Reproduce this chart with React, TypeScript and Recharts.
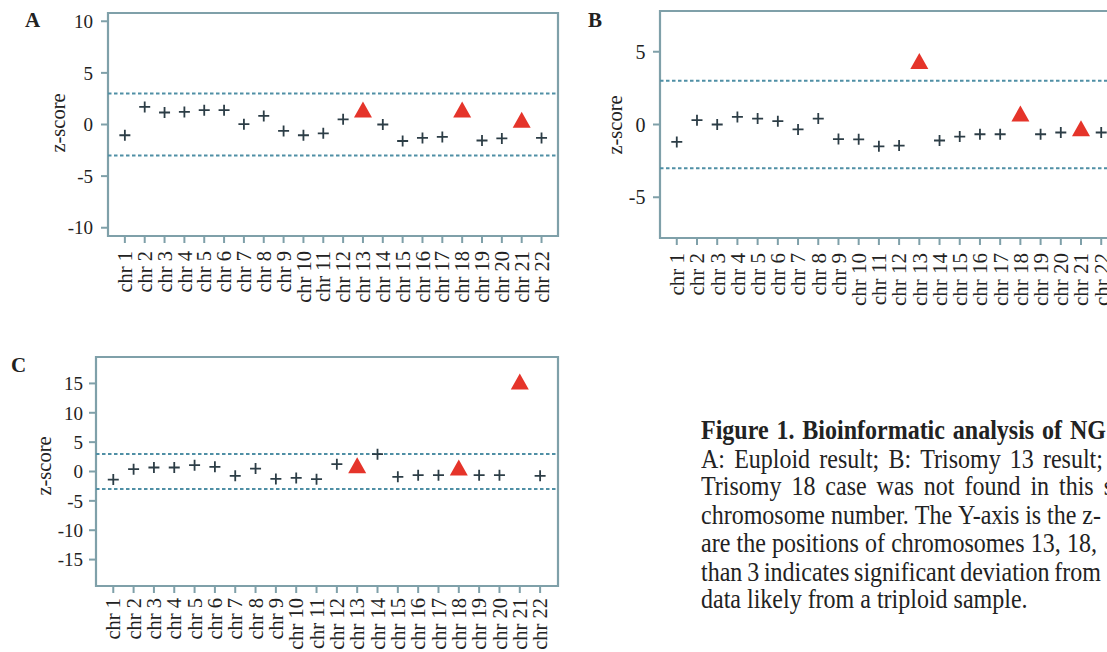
import React from 'react';
import { ScatterChart, Scatter, XAxis, YAxis, ReferenceLine, ReferenceArea } from 'recharts';

const chrNumbers = [1, 2, 3, 4, 5, 6, 7, 8, 9, 10, 11, 12, 13, 14, 15, 16, 17, 18, 19, 20, 21, 22];
const chrLabels = chrNumbers.map((n) => `chr ${n}`);
const trisomyChrs = [13, 18, 21];
const thresholds = [3, -3];

const zA = [-1.04, 1.7, 1.16, 1.22, 1.39, 1.39, 0.03, 0.83, -0.62, -1.04, -0.85, 0.5, 1.45, 0.0, -1.6, -1.3, -1.2, 1.45, -1.55, -1.35, 0.45, -1.3];
const zB = [-1.2, 0.3, 0.0, 0.52, 0.41, 0.23, -0.34, 0.41, -1.0, -1.02, -1.5, -1.45, 4.37, -1.1, -0.83, -0.67, -0.67, 0.76, -0.67, -0.55, -0.25, -0.55];
const zC = [-1.37, 0.4, 0.68, 0.68, 1.07, 0.79, -0.74, 0.5, -1.26, -1.09, -1.31, 1.24, 1.07, 2.95, -0.91, -0.63, -0.63, 0.68, -0.63, -0.63, 15.34, -0.74];

const yTicksA = [-10, -5, 0, 5, 10];
const yTicksB = [-5, 0, 5];
const yTicksC = [-15, -10, -5, 0, 5, 10, 15];

const captionTitle = 'Figure 1. Bioinformatic analysis of NG';
const captionLines = [
  'A: Euploid result; B: Trisomy 13 result;',
  'Trisomy 18 case was not found in this s',
  'chromosome number. The Y-axis is the z-',
  'are the positions of chromosomes 13, 18,',
  'than 3 indicates significant deviation from',
  'data likely from a triploid sample.',
];

const FONT = "'Liberation Serif', 'Times New Roman', serif";
const FRAME = '#7fa0a9';
const DASH = '#4f8fa5';
const PLUS = '#2c3d46';
const TRI = '#e5342a';

const PlusMark = (props: any) => {
  const { cx, cy } = props;
  if (cx == null || cy == null) return null;
  return (
    <path d={`M${cx - 5.5},${cy}H${cx + 5.5}M${cx},${cy - 5.5}V${cy + 5.5}`} stroke={PLUS} strokeWidth={1.8} fill="none" />
  );
};

const TriMark = (props: any) => {
  const { cx, cy } = props;
  if (cx == null || cy == null) return null;
  return <polygon points={`${cx},${cy - 8} ${cx - 9},${cy + 8} ${cx + 9},${cy + 8}`} fill={TRI} />;
};

type PanelProps = {
  left: number;
  top: number;
  width: number;
  height: number;
  margin: { top: number; right: number; bottom: number; left: number };
  yAxisWidth: number;
  xAxisHeight: number;
  xDomain: [number, number];
  yDomain: [number, number];
  yTicks: number[];
  values: number[];
  fontSize: number;
  xFontSize: number;
  yTickMargin: number;
  xTickMargin: number;
};

const Panel = (p: PanelProps) => {
  const normals = chrNumbers.filter((n) => !trisomyChrs.includes(n)).map((n) => ({ x: n, z: p.values[n - 1] }));
  const tris = trisomyChrs.map((n) => ({ x: n, z: p.values[n - 1] }));
  const XTick = (tp: any) => {
    const { x, y, payload } = tp;
    return (
      <text
        x={x}
        y={y}
        transform={`rotate(-90 ${x} ${y})`}
        textAnchor="end"
        dy="0.35em"
        fontSize={p.xFontSize}
        fill="#222"
        fontFamily={FONT}
      >
        {chrLabels[payload.value - 1]}
      </text>
    );
  };
  return (
    <div style={{ position: 'absolute', left: p.left, top: p.top }}>
      <ScatterChart width={p.width} height={p.height} margin={p.margin}>
        <XAxis
          type="number"
          dataKey="x"
          domain={p.xDomain}
          allowDataOverflow
          ticks={chrNumbers}
          interval={0}
          height={p.xAxisHeight}
          axisLine={false}
          tickSize={7}
          tickMargin={p.xTickMargin}
          tickLine={{ stroke: FRAME, strokeWidth: 2 }}
          tick={XTick}
        />
        <YAxis
          type="number"
          dataKey="z"
          domain={p.yDomain}
          allowDataOverflow
          ticks={p.yTicks}
          interval={0}
          width={p.yAxisWidth}
          axisLine={false}
          tickSize={7}
          tickMargin={p.yTickMargin}
          tickLine={{ stroke: FRAME, strokeWidth: 2 }}
          tick={{ fontSize: p.fontSize, fill: '#222', fontFamily: FONT }}
        />
        <ReferenceArea
          x1={p.xDomain[0]}
          x2={p.xDomain[1]}
          y1={p.yDomain[0]}
          y2={p.yDomain[1]}
          fill="none"
          fillOpacity={0}
          stroke={FRAME}
          strokeWidth={2.2}
          ifOverflow="visible"
        />
        {thresholds.map((t) => (
          <ReferenceLine key={t} y={t} stroke={DASH} strokeWidth={2} strokeDasharray="3.5 2.5" />
        ))}
        <Scatter data={normals} shape={PlusMark} isAnimationActive={false} />
        <Scatter data={tris} shape={TriMark} isAnimationActive={false} />
      </ScatterChart>
    </div>
  );
};

const JustLine = ({ text, width, bold }: { text: string; width?: number; bold?: boolean }) => {
  const words = text.split(' ');
  if (!width) {
    return <div style={{ whiteSpace: 'nowrap', fontWeight: bold ? 700 : 400 }}>{text}</div>;
  }
  return (
    <div style={{ display: 'flex', justifyContent: 'space-between', width, whiteSpace: 'nowrap', fontWeight: bold ? 700 : 400 }}>
      {words.map((w, i) => (
        <span key={i}>{w}</span>
      ))}
    </div>
  );
};

export default function App() {
  const lineWidths = [402, 412, 400, 396, 400, 0];
  return (
    <div
      style={{
        position: 'fixed',
        left: 0,
        top: 0,
        width: 1107,
        height: 652,
        overflow: 'hidden',
        background: '#fff',
        fontFamily: FONT,
      }}
    >
      <Panel
        left={0}
        top={0}
        width={575}
        height={330}
        margin={{ top: 13, right: 17, bottom: 0, left: 0 }}
        yAxisWidth={108}
        xAxisHeight={94}
        xDomain={[0.15, 22.83]}
        yDomain={[-10.8, 10.8]}
        yTicks={yTicksA}
        values={zA}
        fontSize={19}
        xFontSize={20.5}
        yTickMargin={8}
        xTickMargin={8}
      />
      <Panel
        left={580}
        top={0}
        width={555}
        height={330}
        margin={{ top: 11, right: 17, bottom: 0, left: 0 }}
        yAxisWidth={80}
        xAxisHeight={92}
        xDomain={[0.17, 22.83]}
        yDomain={[-7.8, 7.8]}
        yTicks={yTicksB}
        values={zB}
        fontSize={20}
        xFontSize={21}
        yTickMargin={7.5}
        xTickMargin={8}
      />
      <Panel
        left={0}
        top={340}
        width={575}
        height={312}
        margin={{ top: 17, right: 17, bottom: 0, left: 0 }}
        yAxisWidth={96}
        xAxisHeight={66}
        xDomain={[0.15, 22.88]}
        yDomain={[-19.5, 19.5]}
        yTicks={yTicksC}
        values={zC}
        fontSize={19}
        xFontSize={20.5}
        yTickMargin={6}
        xTickMargin={5}
      />
      <svg width={1107} height={652} style={{ position: 'absolute', left: 0, top: 0, pointerEvents: 'none' }}>
        <g fontFamily={FONT} fill="#222">
          <text x={25} y={27} fontSize={21} fontWeight={700}>A</text>
          <text x={588} y={27} fontSize={21} fontWeight={700}>B</text>
          <text x={11} y={372} fontSize={21} fontWeight={700}>C</text>
          <text x={58} y={123} transform="rotate(-90 58 123)" textAnchor="middle" dominantBaseline="central" fontSize={20.5}>z-score</text>
          <text x={615} y={125} transform="rotate(-90 615 125)" textAnchor="middle" dominantBaseline="central" fontSize={20.5}>z-score</text>
          <text x={44} y={466} transform="rotate(-90 44 466)" textAnchor="middle" dominantBaseline="central" fontSize={20.5}>z-score</text>
        </g>
      </svg>
      <div
        style={{
          position: 'absolute',
          left: 701,
          top: 417,
          fontSize: 24,
          lineHeight: '25.7px',
          color: '#222',
          transform: 'scale(1, 1.1)',
          transformOrigin: '0 0',
        }}
      >
        <JustLine text={captionTitle} width={405} bold />
        {captionLines.map((l, i) => (
          <JustLine key={i} text={l} width={lineWidths[i] || undefined} />
        ))}
      </div>
    </div>
  );
}
